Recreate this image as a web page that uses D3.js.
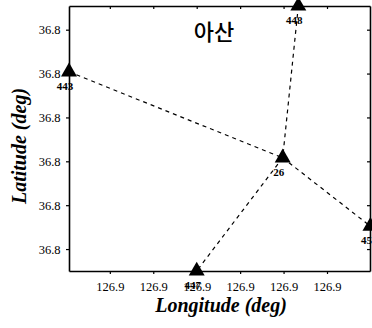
<!DOCTYPE html>
<html>
<head>
<meta charset="utf-8">
<script src="https://cdn.jsdelivr.net/npm/d3@7"></script>
<style>
  body { margin: 0; background: #fff; }
  svg { display: block; }
</style>
</head>
<body>
<div id="chart"></div>
<script>
// station data
const stations = ['443', '448', '26', '447', '45'];
const lons = [126.8753, 126.9017, 126.8999, 126.8900, 126.9100];
const lats = [36.7952, 36.8027, 36.7854, 36.7725, 36.7776];
const links = [['443', '26'], ['448', '26'], ['26', '447'], ['26', '45']];
const xTicks = [126.880, 126.885, 126.890, 126.895, 126.900, 126.905];
const yTicks = [36.775, 36.780, 36.785, 36.790, 36.795, 36.800];
const title = '아산';

const width = 372, height = 328;
const margin = { top: 6, right: 2, bottom: 57, left: 69 };
const w = width - margin.left - margin.right;
const h = height - margin.top - margin.bottom;

const svg = d3.select('#chart').append('svg')
  .attr('width', width)
  .attr('height', height);

const g = svg.append('g')
  .attr('transform', `translate(${margin.left},${margin.top})`);

const x = d3.scaleLinear().domain([126.8753, 126.90995]).range([0, w]);
const y = d3.scaleLinear().domain([36.7725, 36.8027]).range([h, 0]);

const fmt = d3.format('.1f');

// bottom + left axes (outward ticks)
g.append('g')
  .attr('transform', `translate(0,${h})`)
  .call(d3.axisBottom(x).tickValues(xTicks).tickFormat(fmt).tickSize(3).tickSizeOuter(0))
  .call(a => a.selectAll('text')
    .attr('dy', '1.1em')
    .style('font-family', '"Liberation Serif", serif')
    .style('font-size', '12.5px')
    .style('fill', '#000'));

g.append('g')
  .call(d3.axisLeft(y).tickValues(yTicks).tickFormat(fmt).tickSize(3).tickSizeOuter(0))
  .call(a => a.selectAll('text')
    .attr('dx', '-0.2em')
    .style('font-family', '"Liberation Serif", serif')
    .style('font-size', '12.5px')
    .style('fill', '#000'));

// top + right axes, ticks only
g.append('g')
  .call(d3.axisTop(x).tickValues(xTicks).tickFormat('').tickSize(-3).tickSizeOuter(0));
g.append('g')
  .attr('transform', `translate(${w},0)`)
  .call(d3.axisRight(y).tickValues(yTicks).tickFormat('').tickSize(-3).tickSizeOuter(0));

g.selectAll('.domain').attr('stroke', '#000').attr('stroke-width', 1.6);
g.selectAll('.tick line').attr('stroke', '#000').attr('stroke-width', 1.2);

const pts = stations.map((s, i) => ({ id: s, lon: lons[i], lat: lats[i] }));
const byId = new Map(pts.map(p => [p.id, p]));

// dashed connections
g.selectAll('.link')
  .data(links)
  .enter()
  .append('line')
  .attr('class', 'link')
  .attr('x1', d => x(byId.get(d[0]).lon))
  .attr('y1', d => y(byId.get(d[0]).lat))
  .attr('x2', d => x(byId.get(d[1]).lon))
  .attr('y2', d => y(byId.get(d[1]).lat))
  .attr('stroke', '#000')
  .attr('stroke-width', 1.2)
  .attr('stroke-dasharray', '4,4');

// triangles
g.selectAll('.stn')
  .data(pts)
  .enter()
  .append('path')
  .attr('class', 'stn')
  .attr('transform', d => `translate(${x(d.lon)},${y(d.lat)})`)
  .attr('d', d3.symbol(d3.symbolTriangle, 110)())
  .attr('fill', '#000');

g.selectAll('.stn-label')
  .data(pts)
  .enter()
  .append('text')
  .attr('class', 'stn-label')
  .attr('x', d => x(d.lon) - 4)
  .attr('y', d => y(d.lat) + 18)
  .attr('text-anchor', 'middle')
  .style('font-family', '"Liberation Serif", serif')
  .style('font-weight', 'bold')
  .style('font-size', '11px')
  .text(d => d.id);

// title inside plot
g.append('text')
  .attr('x', 214 - margin.left)
  .attr('y', 40 - margin.top)
  .attr('text-anchor', 'middle')
  .style('font-family', '"Noto Sans CJK KR", sans-serif')
  .style('font-weight', 500)
  .style('font-size', '22px')
  .text(title);

// axis titles
svg.append('text')
  .attr('x', 221)
  .attr('y', 312)
  .attr('text-anchor', 'middle')
  .style('font-family', '"Liberation Serif", serif')
  .style('font-weight', 'bold')
  .style('font-style', 'italic')
  .style('font-size', '20px')
  .text('Longitude (deg)');

svg.append('text')
  .attr('transform', 'translate(26,146) rotate(-90)')
  .attr('text-anchor', 'middle')
  .style('font-family', '"Liberation Serif", serif')
  .style('font-weight', 'bold')
  .style('font-style', 'italic')
  .style('font-size', '20px')
  .text('Latitude (deg)');
</script>
</body>
</html>
